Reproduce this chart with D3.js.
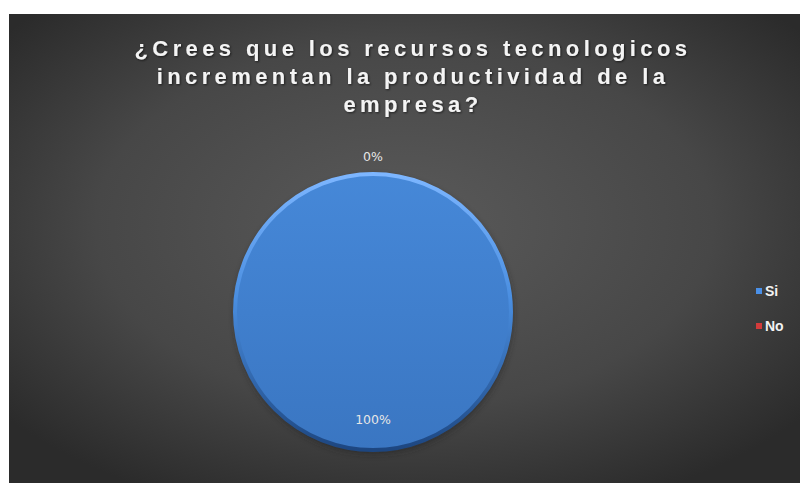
<!DOCTYPE html>
<html>
<head>
<meta charset="utf-8">
<script src="https://cdn.jsdelivr.net/npm/d3@7"></script>
<style>
  html, body { margin: 0; padding: 0; background: #ffffff; }
  svg { display: block; }
</style>
</head>
<body>
<svg id="chart" width="800" height="483"></svg>
<script>
// Survey answers
const categories = ["Si", "No"];
const values = [100, 0];
const percentLabels = ["100%", "0%"];
const colors = ["#3f7fd0", "#c0392b"];
const titleLines = [
  "¿Crees que los recursos tecnologicos",
  "incrementan la productividad de la",
  "empresa?"
];

const svg = d3.select("#chart");
const W = 800, H = 483;
const defs = svg.append("defs");

// Dark chart area with soft radial lighting
const bg = defs.append("radialGradient").attr("id", "bgGrad")
  .attr("cx", "50%").attr("cy", "45%").attr("r", "65%");
bg.append("stop").attr("offset", "0%").attr("stop-color", "#5a5a5a");
bg.append("stop").attr("offset", "60%").attr("stop-color", "#474747");
bg.append("stop").attr("offset", "100%").attr("stop-color", "#2b2b2b");

svg.append("rect").attr("x", 9).attr("y", 14).attr("width", W - 9).attr("height", H - 14)
  .attr("fill", "url(#bgGrad)");

// Title with a slight drop shadow
const tshadow = defs.append("filter").attr("id", "tshadow")
  .attr("x", "-5%").attr("y", "-20%").attr("width", "110%").attr("height", "140%");
tshadow.append("feDropShadow").attr("dx", 1).attr("dy", 1).attr("stdDeviation", 0.8)
  .attr("flood-color", "#000").attr("flood-opacity", 0.6);

const title = svg.append("text")
  .attr("text-anchor", "middle")
  .attr("fill", "#f4f4f4")
  .attr("filter", "url(#tshadow)")
  .style("font-family", "'Liberation Sans', Arial, sans-serif")
  .style("font-weight", "bold")
  .style("font-size", "22px")
  .style("letter-spacing", "4.4px");
titleLines.forEach((t, i) => {
  title.append("tspan").attr("x", 413).attr("y", 56 + i * 28).text(t);
});

// Pie
const cx = 373, cy = 312, R = 138;
const pie = d3.pie().sort(null).value(d => d)(values);
const arc = d3.arc().innerRadius(0).outerRadius(R);

const fillGrad = defs.append("linearGradient").attr("id", "sliceGrad")
  .attr("x1", 0).attr("y1", 0).attr("x2", 0).attr("y2", 1);
fillGrad.append("stop").attr("offset", "0%").attr("stop-color", "#4688d8");
fillGrad.append("stop").attr("offset", "100%").attr("stop-color", "#3a76c2");

const rim = defs.append("linearGradient").attr("id", "rimGrad")
  .attr("x1", 0).attr("y1", 0).attr("x2", 0).attr("y2", 1);
rim.append("stop").attr("offset", "0%").attr("stop-color", "#7db6ff");
rim.append("stop").attr("offset", "45%").attr("stop-color", "#4a8ee0");
rim.append("stop").attr("offset", "100%").attr("stop-color", "#1d4680");

const blur = defs.append("filter").attr("id", "shadow")
  .attr("x", "-20%").attr("y", "-20%").attr("width", "140%").attr("height", "140%");
blur.append("feGaussianBlur").attr("stdDeviation", 3);

const g = svg.append("g").attr("transform", `translate(${cx},${cy})`);

// soft shadow behind the pie
g.append("circle").attr("cx", 1).attr("cy", 3).attr("r", R + 1)
  .attr("fill", "#222").attr("opacity", 0.55).attr("filter", "url(#shadow)");

// only slices with a value get painted
g.selectAll("path.slice").data(pie.filter(d => d.value > 0)).join("path")
  .attr("class", "slice")
  .attr("d", arc)
  .attr("fill", d => d.index === 0 ? "url(#sliceGrad)" : colors[d.index])
  .attr("stroke", d => d.index === 0 ? "url(#rimGrad)" : colors[d.index])
  .attr("stroke-width", 4);

// Percentage labels: filled slice inside near its rim, empty slice just outside
const inner = d3.arc().innerRadius(R * 0.78).outerRadius(R * 0.78);
const outer = d3.arc().innerRadius(R + 17).outerRadius(R + 17);
g.selectAll("text.pct").data(pie).join("text")
  .attr("class", "pct")
  .attr("transform", d => {
    const p = d.value > 0 ? inner.centroid(d) : outer.centroid(d);
    return `translate(${p[0]},${p[1]})`;
  })
  .attr("text-anchor", "middle")
  .attr("dy", "0.35em")
  .attr("fill", "#e6e6e6")
  .style("font-family", "'DejaVu Sans', Verdana, sans-serif")
  .style("font-size", "12.5px")
  .text((d, i) => percentLabels[i]);

// Legend
const legend = svg.append("g").attr("transform", "translate(756,291)");
const item = legend.selectAll("g").data(categories).join("g")
  .attr("transform", (d, i) => `translate(0,${i * 35})`);
item.append("rect").attr("x", 0).attr("y", -3).attr("width", 6).attr("height", 6)
  .attr("fill", (d, i) => i === 0 ? "#4a90e8" : "#d23b3b");
item.append("text").attr("x", 9).attr("dy", "0.35em")
  .attr("fill", "#f2f2f2")
  .style("font-family", "'Liberation Sans', Arial, sans-serif")
  .style("font-weight", "bold")
  .style("font-size", "14px")
  .text(d => d);
</script>
</body>
</html>
